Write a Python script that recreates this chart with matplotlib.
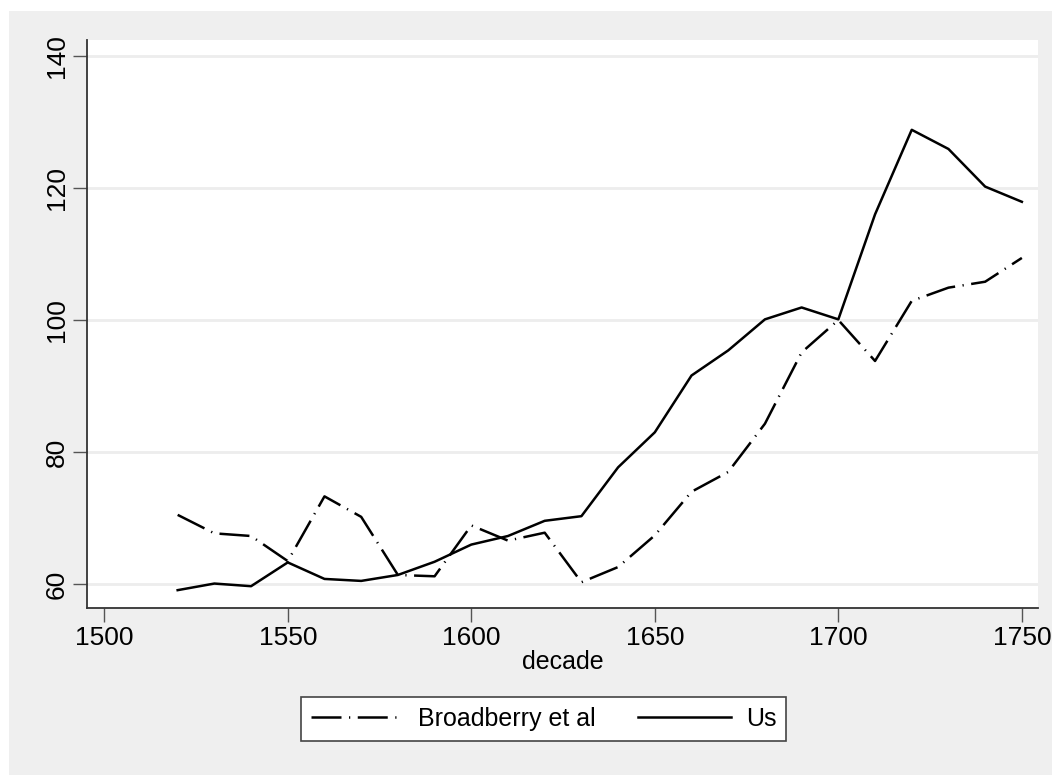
import numpy as np
import matplotlib
matplotlib.use('Agg')
import matplotlib.pyplot as plt
from matplotlib.patches import Rectangle

plt.rcParams['font.family'] = ['Liberation Sans', 'DejaVu Sans']

# decades 1520..1750
decades = list(range(1520, 1760, 10))
broadberry = [70.5, 67.7, 67.3, 63.5, 73.3, 70.2, 61.4, 61.2, 68.9, 66.6, 67.8, 60.3,
              62.6, 67.4, 74.0, 77.0, 84.3, 95.1, 100.0, 93.8, 102.9, 104.9, 105.8, 109.4]
us = [59.1, 60.1, 59.7, 63.3, 60.8, 60.5, 61.4, 63.4, 66.0, 67.3, 69.6, 70.3,
      77.7, 83.0, 91.6, 95.4, 100.1, 101.9, 100.1, 116.0, 128.8, 125.9, 120.2, 117.9]
y_ticks = [60, 80, 100, 120, 140]
x_ticks = [1500, 1550, 1600, 1650, 1700, 1750]

def draw_picture():
    fig = plt.figure(figsize=(10.52, 7.75), dpi=100)
    fig.patch.set_facecolor('white')
    # grey outer region like stata's s2 scheme
    fig.patches.append(Rectangle((9 / 1052, 0), 1 - 9 / 1052, 1 - 11 / 775,
                                 transform=fig.transFigure, facecolor='#efefef',
                                 edgecolor='none', zorder=-10))
    ax = fig.add_axes([0.0827, 0.2155, 0.9040, 0.7329])
    ax.set_facecolor('white')

    ax.plot(decades, broadberry, color='black', lw=1.8,
            linestyle=(0, (12, 3, 0.5, 3)), label='Broadberry et al')
    ax.plot(decades, us, color='black', lw=1.8, label='Us')

    ax.set_xlim(1495.3, 1754.4)
    ax.set_ylim(56.4, 142.4)
    ax.set_xticks(x_ticks)
    ax.set_yticks(y_ticks)
    ax.yaxis.grid(True, color='#ededed', lw=2)
    ax.set_axisbelow(True)
    for s in ['top', 'right']:
        ax.spines[s].set_visible(False)
    for s in ['left', 'bottom']:
        ax.spines[s].set_color('#333333')
        ax.spines[s].set_linewidth(1.3)
    ax.tick_params(length=10, width=1, color='#555555', labelsize=19, pad=3)
    for lab in ax.get_yticklabels():
        lab.set_rotation(90)
        lab.set_va('center')
    ax.set_xlabel('decade', fontsize=18, labelpad=0)

    leg = fig.legend(loc='center', bbox_to_anchor=(0.5166, 0.0723), ncol=2,
                     fontsize=18, frameon=True, fancybox=False, framealpha=1,
                     edgecolor='#444444', handlelength=3.7, handletextpad=0.6,
                     columnspacing=1.7, borderpad=0.4)
    leg.get_frame().set_linewidth(1.2)

    fig.savefig('out.png', dpi=100)

def main():
    draw_picture()

if __name__ == '__main__':
    main()
